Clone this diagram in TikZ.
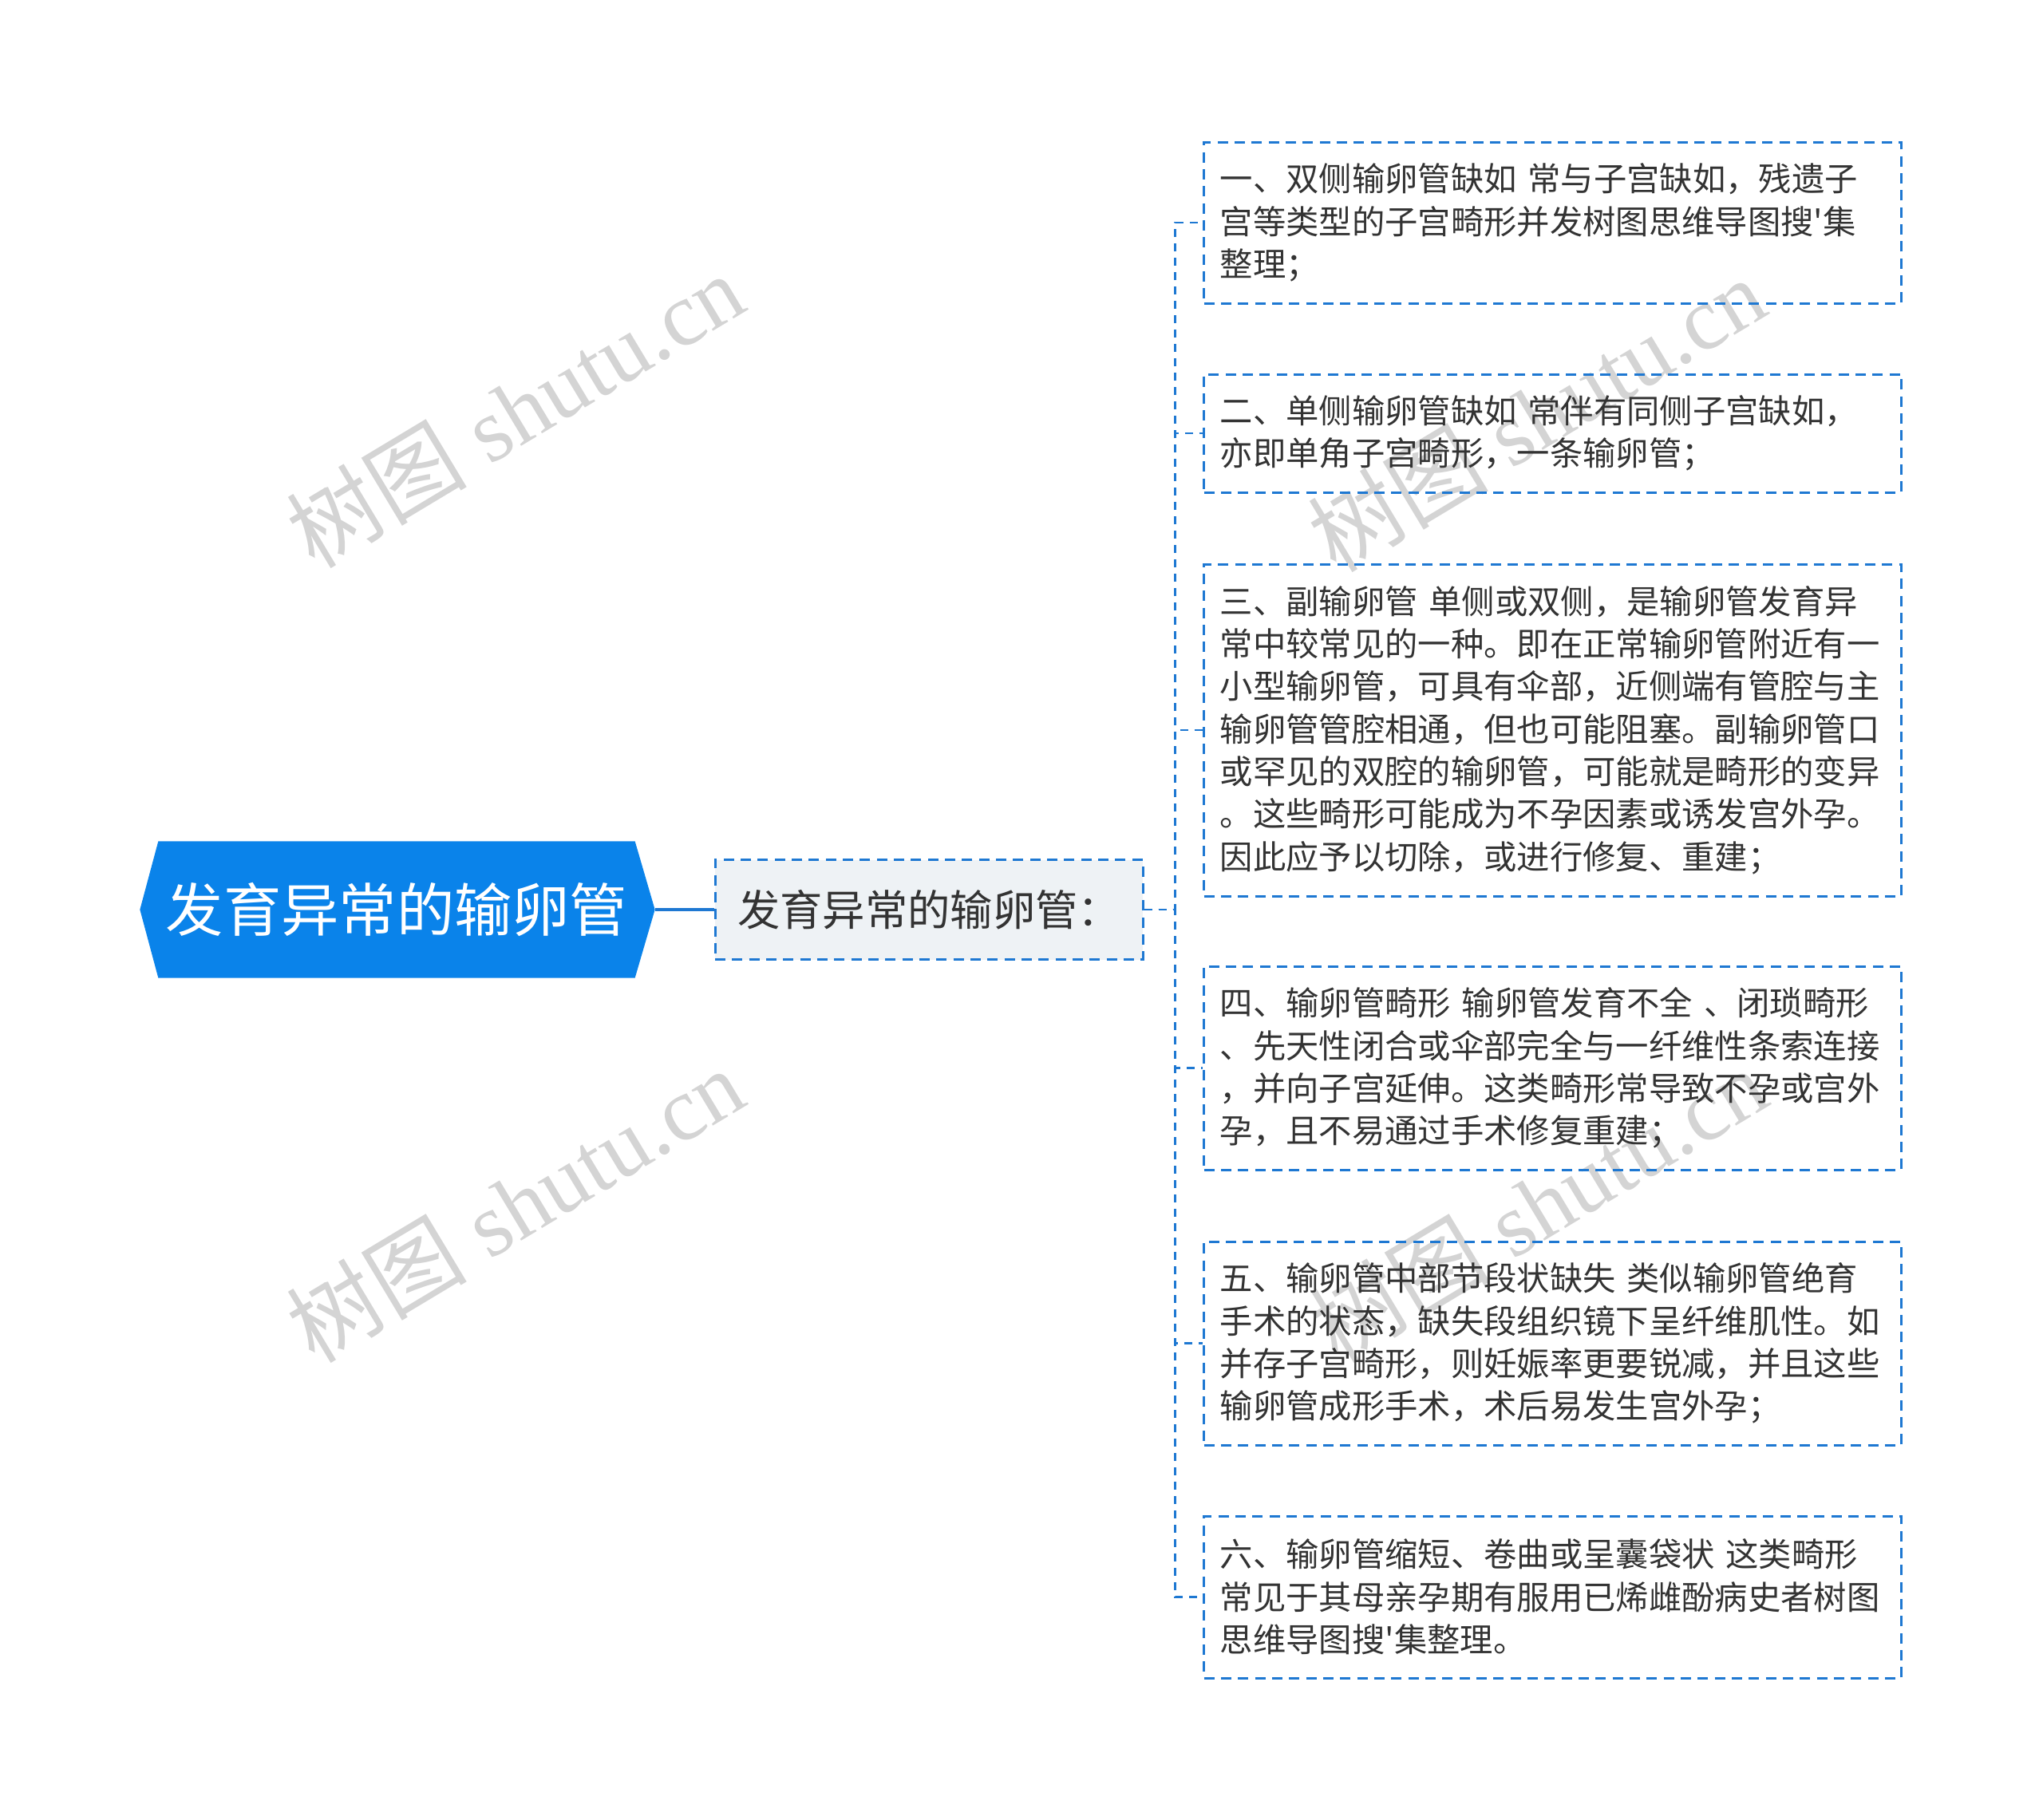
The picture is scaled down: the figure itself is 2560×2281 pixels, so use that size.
\documentclass[tikz,border=0pt]{standalone}
\usepackage{fontspec}
\newfontfamily\cjk[Ligatures=TeXOff]{Noto Sans CJK SC}
\newfontfamily\wmserif{Liberation Serif}
\usetikzlibrary{backgrounds}
\definecolor{rootblue}{HTML}{0A83EA}
\definecolor{linkblue}{HTML}{1E78D2}
\definecolor{midfill}{HTML}{EEF2F5}
\definecolor{txtgray}{HTML}{333333}
\definecolor{wmgray}{HTML}{D4D4D4}
\begin{document}
\begin{tikzpicture}[x=0.3pt,y=-0.3pt,
  rootnode/.style={minimum width=178.8pt,minimum height=51pt,inner sep=0pt,text=white,font=\cjk\fontsize{21.7}{25}\selectfont},
  topic/.style={draw=linkblue,line width=0.9pt,dash pattern=on 3.9pt off 2.5pt,fill=midfill,minimum width=160.8pt,minimum height=37.5pt,inner sep=0pt,text=txtgray,font=\cjk\fontsize{16}{19}\selectfont},
  leaf/.style={draw=linkblue,line width=0.9pt,dash pattern=on 3.9pt off 2.5pt,text width=250pt,inner xsep=6.1pt,inner ysep=0pt,align=left,text=txtgray,font=\cjk\fontsize{12.4}{16}\selectfont},
  link/.style={linkblue,line width=0.75pt,dash pattern=on 3pt off 2.4pt},
  wmtext/.style={text=wmgray,rotate=31,font=\wmserif\fontsize{34}{38}\selectfont}]
\useasboundingbox (0,0) rectangle (2560,2281);
\node[wmtext] (wm1) at (645,514) {{\cjk 树图} shutu.cn};
\node[wmtext] (wm2) at (645,1510) {{\cjk 树图} shutu.cn};
\node[wmtext] (wm3) at (1925,519) {{\cjk 树图} shutu.cn};
\node[wmtext] (wm4) at (1927,1510) {{\cjk 树图} shutu.cn};

\node[rootnode] (root) at (497,1140) {发育异常的输卵管};
\begin{scope}[on background layer]
\fill[rootblue] (root.north west) -- (root.north east) -- ([xshift=7.5pt]root.east) -- (root.south east)
  -- (root.south west) -- ([xshift=-6.9pt]root.west) -- cycle;
\end{scope}
\coordinate (roottip) at ([xshift=7.5pt]root.east);
\node[topic] (topic) at (1164,1140) {发育异常的输卵管：};
\draw[linkblue,line width=1.2pt] (roottip) -- (topic.west);

\node[leaf,minimum height=60.6pt] (leaf1) at (1945.5,279) {一、双侧输卵管缺如 常与子宫缺如，残遗子\\宫等类型的子宫畸形并发树图思维导图搜'集\\整理；};
\node[leaf,minimum height=44.4pt] (leaf2) at (1945.5,543) {二、单侧输卵管缺如 常伴有同侧子宫缺如，\\亦即单角子宫畸形，一条输卵管；};
\node[leaf,minimum height=124.8pt] (leaf3) at (1945.5,915) {三、副输卵管 单侧或双侧，是输卵管发育异\\常中较常见的一种。即在正常输卵管附近有一\\小型输卵管，可具有伞部，近侧端有管腔与主\\输卵管管腔相通，但也可能阻塞。副输卵管口\\或罕见的双腔的输卵管，可能就是畸形的变异\\。这些畸形可能成为不孕因素或诱发宫外孕。\\因此应予以切除，或进行修复、重建；};
\node[leaf,minimum height=76.5pt] (leaf4) at (1945.5,1338.5) {四、输卵管畸形 输卵管发育不全 、闭琐畸形\\、先天性闭合或伞部完全与一纤维性条索连接\\，并向子宫延伸。这类畸形常导致不孕或宫外\\孕，且不易通过手术修复重建；};
\node[leaf,minimum height=76.5pt] (leaf5) at (1945.5,1683.5) {五、输卵管中部节段状缺失 类似输卵管绝育\\手术的状态，缺失段组织镜下呈纤维肌性。如\\并存子宫畸形，则妊娠率更要锐减，并且这些\\输卵管成形手术，术后易发生宫外孕；};
\node[leaf,minimum height=60.9pt] (leaf6) at (1945.5,2001.5) {六、输卵管缩短、卷曲或呈囊袋状 这类畸形\\常见于其母亲孕期有服用已烯雌酚病史者树图\\思维导图搜'集整理。};

\foreach \n in {1,...,6}
  \draw[link] (topic.east) -- ++(39,0) |- (leaf\n.west);
\end{tikzpicture}
\end{document}
